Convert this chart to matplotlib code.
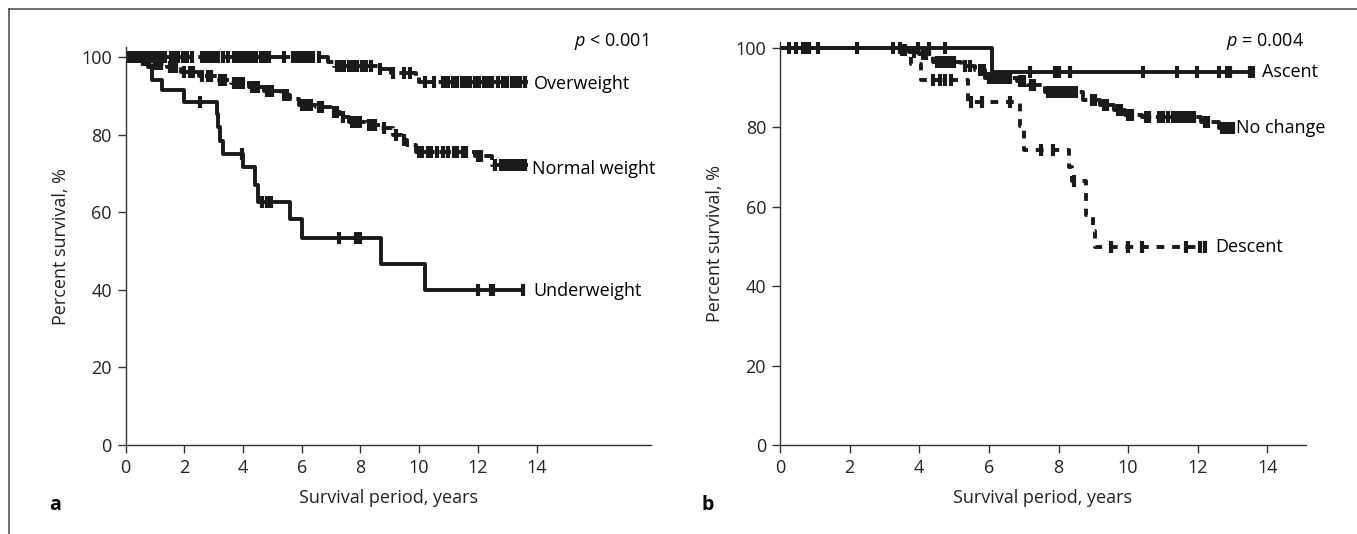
import numpy as np
import matplotlib
matplotlib.use("Agg")
import matplotlib.pyplot as plt
from matplotlib.lines import Line2D

plt.rcParams['font.family'] = ['Open Sans', 'DejaVu Sans']
plt.rcParams['mathtext.fontset'] = 'custom'
plt.rcParams['mathtext.it'] = 'Open Sans:italic'
plt.rcParams['mathtext.rm'] = 'Open Sans'

# ---- panel a: BMI groups (step times, survival %, censor times) ----
under_t = [0, 0.75, 0.9, 1.25, 2.0, 3.1, 3.15, 3.2, 3.3, 4.0, 4.4, 4.5, 5.6, 6.0, 8.7, 10.2]
under_s = [100, 97.4, 94.1, 91.5, 88.5, 85.5, 82.0, 78.5, 75.0, 71.6, 67.0, 62.8, 58.3, 53.3, 46.7, 40.0]
under_end = 13.55
under_cens = [2.52, 3.96, 4.65, 4.8, 4.95, 7.27, 7.85, 8.0, 12.02, 12.45, 12.53, 13.55]

normal_t = [0, 0.5, 0.9, 1.4, 1.9, 2.5, 3.1, 3.6, 4.2, 4.7, 5.3, 5.6, 5.9, 6.5, 7.0, 7.3, 7.6,
            8.2, 8.7, 9.1, 9.4, 9.6, 9.9, 11.9, 12.5]
normal_s = [100, 99.2, 98.3, 97.5, 96.2, 95.1, 94.2, 93.3, 92.4, 91.2, 90.3, 89.2, 87.8, 87.2,
            85.8, 84.6, 83.3, 82.6, 81.7, 80.0, 78.8, 77.4, 75.7, 74.5, 72.2]
normal_end = 13.7
normal_cens = [0.1, 0.2, 0.3, 0.4, 0.6, 0.7, 0.8, 1.0, 1.1, 1.2, 1.5, 1.6, 1.7, 2.0, 2.2, 2.3,
               2.6, 2.8, 2.9, 3.2, 3.3, 3.4, 3.7, 3.8, 3.9, 4.0, 4.3, 4.4, 4.5, 4.8, 4.9, 5.0,
               5.4, 5.5, 6.0, 6.1, 6.2, 6.3, 6.6, 6.7, 7.1, 7.2, 7.4, 7.7, 7.8, 7.9, 8.0, 8.3,
               8.4, 8.5, 8.8, 9.2, 9.5, 10.0, 10.1, 10.3, 10.4, 10.6, 10.8, 11.0, 11.2, 11.3,
               11.5, 11.6, 12.0, 12.1, 12.6, 12.8, 12.9, 13.0, 13.1, 13.2, 13.3, 13.4, 13.5, 13.6]

over_t = [0, 6.9, 7.1, 8.6, 9.05, 9.9, 10.0]
over_s = [100, 98.8, 97.8, 97.0, 96.1, 94.9, 93.7]
over_end = 13.7
over_cens = [0.05, 0.15, 0.25, 0.35, 0.45, 0.55, 0.65, 0.75, 0.85, 0.95, 1.05, 1.15, 1.25, 1.35,
             1.55, 1.65, 1.8, 1.95, 2.1, 2.25, 2.6, 2.7, 2.8, 2.9, 3.0, 3.15, 3.3, 3.5, 3.7,
             3.8, 3.9, 4.0, 4.1, 4.2, 4.3, 4.45, 4.6, 4.75, 4.9, 5.4, 5.7, 5.8, 5.9, 6.0, 6.1,
             6.25, 6.4, 6.6, 7.2, 7.3, 7.45, 7.6, 7.75, 7.9, 8.05, 8.2, 8.35, 8.65, 9.1, 9.5,
             9.7, 10.2, 10.5, 10.8, 10.9, 11.0, 11.15, 11.3, 11.45, 11.6, 11.75, 11.9, 12.05,
             12.2, 12.35, 12.5, 12.7, 12.85, 13.0, 13.15, 13.3, 13.45, 13.6]

# ---- panel b: change in BMI ----
ascent_t = [0, 6.08]
ascent_s = [100, 93.9]
ascent_end = 13.6
ascent_cens = [0.25, 0.47, 0.66, 0.74, 0.82, 1.09, 2.21, 3.24, 3.45, 3.95, 4.29, 4.73,
               7.18, 7.9, 8.0, 8.33, 10.44, 11.4, 11.97, 12.6, 12.84, 12.93, 13.5, 13.6]

nochange_t = [0, 3.4, 3.7, 4.0, 4.4, 5.2, 5.6, 5.9, 6.8, 7.1, 7.6, 8.7, 9.2, 9.6, 9.9, 10.4, 12.1, 12.6]
nochange_s = [100, 99.4, 99.0, 98.3, 96.3, 95.3, 94.3, 92.4, 91.6, 90.6, 88.9, 86.8, 85.6, 84.3,
              83.1, 82.5, 81.4, 79.7]
nochange_end = 13.03
nochange_cens = [3.5, 3.6, 3.85, 4.1, 4.2, 4.5, 4.6, 4.7, 4.8, 4.9, 5.0, 5.3, 5.45, 5.75, 5.85,
                 6.0, 6.1, 6.2, 6.3, 6.4, 6.5, 6.6, 6.9, 7.0, 7.2, 7.3, 7.7, 7.8, 7.9, 8.0,
                 8.1, 8.2, 8.3, 8.4, 8.5, 8.95, 9.05, 9.3, 9.4, 9.7, 9.8, 10.0, 10.1, 10.5,
                 10.6, 10.9, 11.0, 11.15, 11.3, 11.4, 11.5, 11.6, 11.7, 11.8, 11.9, 12.2,
                 12.3, 12.7, 12.8, 12.9, 13.0]

descent_t = [0, 3.75, 4.05, 5.4, 6.9, 7.0, 8.3, 8.4, 8.8, 9.0, 9.05]
descent_s = [100, 96.0, 91.9, 86.4, 80.2, 74.3, 70.0, 66.5, 57.9, 53.8, 49.9]
descent_end = 12.25
descent_cens = [4.4, 4.6, 4.75, 4.9, 5.5, 5.8, 6.6, 7.5, 7.85, 8.45, 9.5, 10.0, 10.4, 11.65,
                12.05, 12.2]


def km_plot(ax, t, s, t_end, cens, ls):
    xs = list(t) + [t_end]
    ys = list(s) + [s[-1]]
    ax.plot(xs, ys, drawstyle='steps-post', color='#1a1a1a', lw=2.8, ls=ls,
            solid_capstyle='butt', dash_capstyle='butt')
    # censored observations sit on the curve value at their time
    idx = np.searchsorted(np.asarray(t), np.asarray(cens), side='right') - 1
    ax.plot(cens, np.asarray(s)[idx], ls='none', marker='|', ms=9, mew=3,
            color='#1a1a1a')


def style_axes(ax, xmax, ymax):
    ax.set_xlim(0, xmax)
    ax.set_ylim(0, ymax)
    for side in ('top', 'right'):
        ax.spines[side].set_visible(False)
    for side in ('left', 'bottom'):
        ax.spines[side].set_color('#333333')
        ax.spines[side].set_linewidth(1.0)
    ax.set_xticks(range(0, 15, 2))
    ax.set_yticks(range(0, 101, 20))
    ax.tick_params(direction='out', length=6, width=1, color='#333333',
                   labelsize=13, pad=4, labelcolor='#222222')
    ax.set_xlabel('Survival period, years', fontsize=13, labelpad=9, color='#222222')
    ax.set_ylabel('Percent survival, %', fontsize=13, labelpad=8, color='#222222')


fig = plt.figure(figsize=(13.57, 5.34), dpi=100)

ax_a = fig.add_axes([0.0926, 0.1667, 0.3871, 0.7447])
km_plot(ax_a, over_t, over_s, over_end, over_cens, (0, (5, 1.2)))
km_plot(ax_a, normal_t, normal_s, normal_end, normal_cens, (0, (3, 1.2)))
km_plot(ax_a, under_t, under_s, under_end, under_cens, '-')
style_axes(ax_a, 17.9, 102.6)
ax_a.text(17.8, 104, r'$\it{p}$ < 0.001', ha='right', va='center', fontsize=13, clip_on=False)
ax_a.text(13.9, 93.2, 'Overweight', ha='left', va='center', fontsize=13)
ax_a.text(13.86, 71.2, 'Normal weight', ha='left', va='center', fontsize=13)
ax_a.text(13.9, 39.8, 'Underweight', ha='left', va='center', fontsize=13)

ax_b = fig.add_axes([0.5748, 0.1667, 0.3874, 0.7552])
km_plot(ax_b, ascent_t, ascent_s, ascent_end, ascent_cens, '-')
km_plot(ax_b, nochange_t, nochange_s, nochange_end, nochange_cens, (0, (4, 1.2)))
km_plot(ax_b, descent_t, descent_s, descent_end, descent_cens, (0, (2, 2)))
style_axes(ax_b, 15.1, 101.5)
ax_b.text(15.06, 101.5, r'$\it{p}$ = 0.004', ha='right', va='center', fontsize=13, clip_on=False)
ax_b.text(13.84, 94.0, 'Ascent', ha='left', va='center', fontsize=13)
ax_b.text(13.1, 79.7, 'No change', ha='left', va='center', fontsize=13)
ax_b.text(12.5, 49.9, 'Descent', ha='left', va='center', fontsize=13)

fig.text(0.0405, 0.0543, 'a', fontsize=14, fontweight='bold', ha='center', va='center')
fig.text(0.5217, 0.0543, 'b', fontsize=14, fontweight='bold', ha='center', va='center')

# thin frame along the top and left edges
fig.add_artist(Line2D([0.0066, 1.0], [0.983, 0.983], transform=fig.transFigure,
                      color='#555555', lw=1.2))
fig.add_artist(Line2D([0.0066, 0.0066], [0.0, 0.983], transform=fig.transFigure,
                      color='#555555', lw=1.2))

fig.savefig('out.png', dpi=100)
